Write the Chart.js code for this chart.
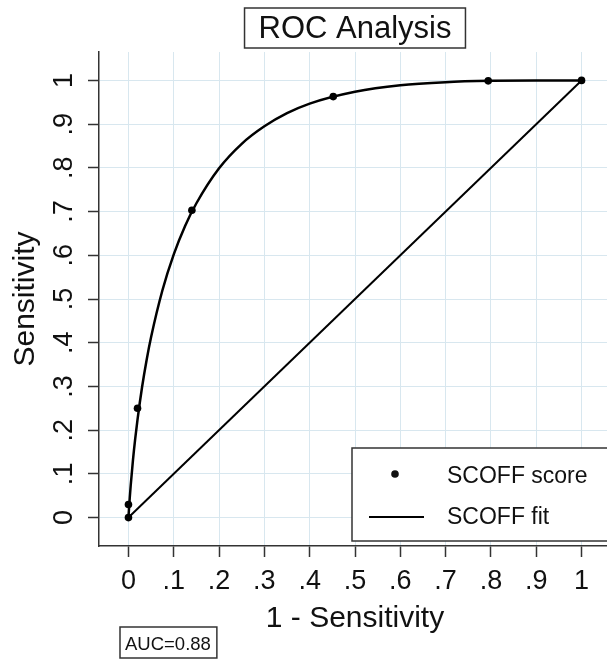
<!DOCTYPE html>
<html>
<head>
<meta charset="utf-8">
<title>ROC Analysis</title>
<script src="https://cdn.jsdelivr.net/npm/chart.js@4/dist/chart.umd.min.js"></script>
<style>
  html, body { margin: 0; padding: 0; background: #fff; overflow: hidden; }
  #roc { display: block; }
</style>
</head>
<body>
<canvas id="roc" width="615" height="664"></canvas>
<script>
// observed points (1 - specificity, sensitivity)
const scoreX = [0, 0, 0.02, 0.14, 0.452, 0.794, 1]
const scoreY = [0, 0.03, 0.25, 0.703, 0.963, 0.999, 1]

// fitted curve
const fitX = [0, 0.001, 0.003, 0.005, 0.01, 0.015, 0.02, 0.03, 0.04, 0.05, 0.075, 0.1, 0.125, 0.15, 0.2, 0.25, 0.3, 0.35, 0.4, 0.5, 0.6, 0.7, 0.8, 0.9, 1]
const fitY = [0, 0.017, 0.047, 0.074, 0.132, 0.181, 0.224, 0.298, 0.36, 0.413, 0.52, 0.602, 0.667, 0.719, 0.799, 0.855, 0.895, 0.925, 0.947, 0.974, 0.989, 0.996, 0.999, 1, 1]

// chance line
const refX = [0, 1]
const refY = [0, 1]

const tickValues = [0, 0.1, 0.2, 0.3, 0.4, 0.5, 0.6, 0.7, 0.8, 0.9, 1]
const tickLabels = ["0", ".1", ".2", ".3", ".4", ".5", ".6", ".7", ".8", ".9", "1"]

const aucValue = 0.88

const FONT = '"Liberation Sans", Arial, Helvetica, sans-serif'
const INK = "#111"
const AXIS = "#333"
const GRID = "#d8e7ef"

const toPoints = (xs, ys) => xs.map((x, i) => ({ x: x, y: ys[i] }))

const decorations = {
  id: "decorations",
  afterDraw(chart) {
    const ctx = chart.ctx
    const area = chart.chartArea
    const yScale = chart.scales.y
    ctx.save()
    ctx.fillStyle = INK
    ctx.strokeStyle = AXIS

    // vertical y tick labels (Stata style)
    ctx.font = `27px ${FONT}`
    ctx.textAlign = "center"
    ctx.textBaseline = "alphabetic"
    tickValues.forEach((v, i) => {
      ctx.save()
      ctx.translate(area.left - 27, yScale.getPixelForValue(v))
      ctx.rotate(-Math.PI / 2)
      ctx.fillText(tickLabels[i], 0, 0)
      ctx.restore()
    })

    // boxed title
    const title = "ROC Analysis"
    ctx.font = `31px ${FONT}`
    const tw = ctx.measureText(title).width
    const cx = (area.left + area.right) / 2
    ctx.lineWidth = 1.5
    ctx.fillStyle = "#fff"
    ctx.fillRect(cx - tw / 2 - 14, 8, tw + 28, 40)
    ctx.strokeRect(cx - tw / 2 - 14, 8, tw + 28, 40)
    ctx.fillStyle = INK
    ctx.fillText(title, cx, 38)

    // legend inside the plot, bottom right
    const lx = area.right - 259
    const lb = area.bottom - 5
    const lt = lb - 93
    ctx.fillStyle = "#fff"
    ctx.fillRect(lx, lt, 270, lb - lt)
    ctx.strokeRect(lx, lt, 270, lb - lt)
    ctx.fillStyle = INK
    ctx.font = `23px ${FONT}`
    ctx.textAlign = "left"
    const sets = chart.data.datasets
    ctx.beginPath()
    ctx.arc(lx + 43, lt + 26, 3.8, 0, Math.PI * 2)
    ctx.fill()
    ctx.fillText(sets[0].label, lx + 95, lt + 35)
    ctx.strokeStyle = "#000"
    ctx.lineWidth = 2
    ctx.beginPath()
    ctx.moveTo(lx + 17, lt + 69)
    ctx.lineTo(lx + 72, lt + 69)
    ctx.stroke()
    ctx.fillText(sets[1].label, lx + 95, lt + 76)

    // AUC note
    const auc = `AUC=${aucValue.toFixed(2)}`
    ctx.font = `18.5px ${FONT}`
    const aw = ctx.measureText(auc).width
    ctx.strokeStyle = AXIS
    ctx.lineWidth = 1.5
    ctx.strokeRect(120, 627, aw + 11, 31)
    ctx.fillText(auc, 125, 650)

    ctx.restore()
  }
}

function fixedTicks(axis) {
  axis.ticks = tickValues.map(v => ({ value: v }))
}

new Chart(document.getElementById("roc"), {
  type: "scatter",
  data: {
    datasets: [
      {
        label: "SCOFF score",
        data: toPoints(scoreX, scoreY),
        showLine: false,
        pointRadius: 3.8,
        pointBackgroundColor: "#000",
        pointBorderWidth: 0,
        order: 0
      },
      {
        label: "SCOFF fit",
        data: toPoints(fitX, fitY),
        showLine: true,
        borderColor: "#000",
        borderWidth: 2.5,
        pointRadius: 0,
        cubicInterpolationMode: "monotone",
        order: 1
      },
      {
        label: "Reference",
        data: toPoints(refX, refY),
        showLine: true,
        borderColor: "#000",
        borderWidth: 2,
        pointRadius: 0,
        order: 2
      }
    ]
  },
  options: {
    responsive: false,
    animation: false,
    devicePixelRatio: 1,
    layout: {
      padding: { top: 52, right: 1, bottom: 26, left: 0 }
    },
    plugins: {
      legend: { display: false },
      tooltip: { enabled: false }
    },
    scales: {
      x: {
        type: "linear",
        min: -0.065,
        max: 1.065,
        afterBuildTicks: fixedTicks,
        afterFit: scale => { scale.height = 92 },
        border: { color: AXIS, width: 1.5 },
        grid: { color: GRID, lineWidth: 1, tickColor: AXIS, tickLength: 11, tickWidth: 1.5 },
        ticks: {
          color: INK,
          padding: 8,
          maxRotation: 0,
          font: { family: FONT, size: 27 },
          callback: (value, i) => tickLabels[i]
        },
        title: {
          display: true,
          text: "1 - Sensitivity",
          color: INK,
          padding: { top: 0, bottom: 1 },
          font: { family: FONT, size: 30 }
        }
      },
      y: {
        type: "linear",
        min: -0.065,
        max: 1.065,
        afterBuildTicks: fixedTicks,
        afterFit: scale => { scale.width = 99 },
        border: { color: AXIS, width: 1.5 },
        grid: { color: GRID, lineWidth: 1, tickColor: AXIS, tickLength: 11, tickWidth: 1.5 },
        ticks: { display: false },
        title: {
          display: true,
          text: "Sensitivity",
          color: INK,
          padding: { top: 8, bottom: 0 },
          font: { family: FONT, size: 30 }
        }
      }
    }
  },
  plugins: [decorations]
})
</script>
</body>
</html>
